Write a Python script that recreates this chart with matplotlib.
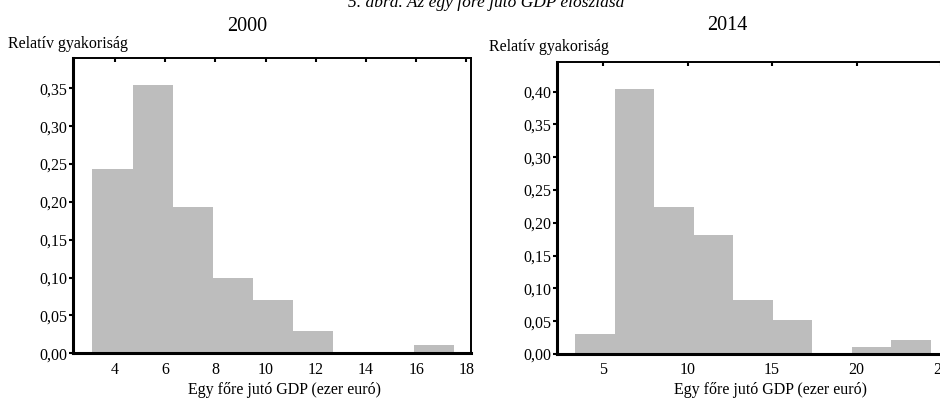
import numpy as np
import matplotlib
matplotlib.use("Agg")
import matplotlib.pyplot as plt
from matplotlib.ticker import FuncFormatter

plt.rcParams["font.family"] = ["Liberation Serif", "DejaVu Serif"]

# 2000: relative frequency of GDP per capita (thousand euro)
edges_2000 = [3.1, 4.7, 6.3, 7.9, 9.5, 11.1, 12.7, 14.3, 15.9, 17.5]
freq_2000 = [0.243, 0.354, 0.193, 0.100, 0.071, 0.029, 0.0, 0.0, 0.011]
xticks_2000 = [4, 6, 8, 10, 12, 14, 16, 18]
yticks_2000 = [0.0, 0.05, 0.10, 0.15, 0.20, 0.25, 0.30, 0.35]

# 2014
edges_2014 = [3.33, 5.67, 8.01, 10.35, 12.69, 15.03, 17.37, 19.71, 22.05, 24.39]
freq_2014 = [0.030, 0.404, 0.224, 0.181, 0.082, 0.052, 0.0, 0.010, 0.022]
xticks_2014 = [5, 10, 15, 20, 25]
yticks_2014 = [0.0, 0.05, 0.10, 0.15, 0.20, 0.25, 0.30, 0.35, 0.40]

bar_color = "#bdbdbd"
comma = FuncFormatter(lambda v, p: f"{v:.2f}".replace(".", ","))

fig = plt.figure(figsize=(9.4, 3.99), dpi=100)
W, H = 940, 399


def px(x0, y_top, x1, y_bot):
    return [x0 / W, 1 - y_bot / H, (x1 - x0) / W, (y_bot - y_top) / H]


ax1 = fig.add_axes(px(73.3, 58, 470.7, 353.3))
ax2 = fig.add_axes(px(556.7, 61.7, 946, 354))

panels = [
    (ax1, edges_2000, freq_2000, xticks_2000, yticks_2000, (2.34, 18.17), (0, 0.39)),
    (ax2, edges_2014, freq_2014, xticks_2014, yticks_2014, (2.24, 25.3), (0, 0.4457)),
]

for ax, edges, freq, xt, yt, xl, yl in panels:
    e = np.array(edges)
    ax.bar(e[:-1], freq, width=np.diff(e), align="edge", color=bar_color,
           edgecolor="none")
    ax.set_xlim(*xl)
    ax.set_ylim(*yl)
    ax.set_xticks(xt)
    ax.set_yticks(yt)
    ax.yaxis.set_major_formatter(comma)
    ax.tick_params(axis="x", top=True, bottom=False, direction="in", length=3,
                   width=1.5, labelsize=11.5, pad=6)
    ax.tick_params(axis="y", direction="out", length=3, width=1.5, labelsize=11.5,
                   pad=1)
    for side in ["top", "right"]:
        ax.spines[side].set_linewidth(1.4)
    for side in ["left", "bottom"]:
        ax.spines[side].set_linewidth(2.2)

# texts
fig.text(486 / W, 1 - 7 / H, "5. ábra. Az egy főre jutó GDP eloszlása",
         ha="center", va="baseline", fontsize=12.5, style="italic")
fig.text(247 / W, 1 - 31 / H, "2000", ha="center", va="baseline", fontsize=14.5)
fig.text(727 / W, 1 - 30 / H, "2014", ha="center", va="baseline", fontsize=14.5)
fig.text(8 / W, 1 - 48 / H, "Relatív gyakoriság", ha="left", va="baseline",
         fontsize=11.5)
fig.text(489 / W, 1 - 51 / H, "Relatív gyakoriság", ha="left", va="baseline",
         fontsize=11.5)
fig.text(285 / W, 1 - 394 / H, "Egy főre jutó GDP (ezer euró)", ha="center",
         va="baseline", fontsize=11.5)
fig.text(771 / W, 1 - 394 / H, "Egy főre jutó GDP (ezer euró)", ha="center",
         va="baseline", fontsize=11.5)

fig.savefig("out.png", dpi=100)
